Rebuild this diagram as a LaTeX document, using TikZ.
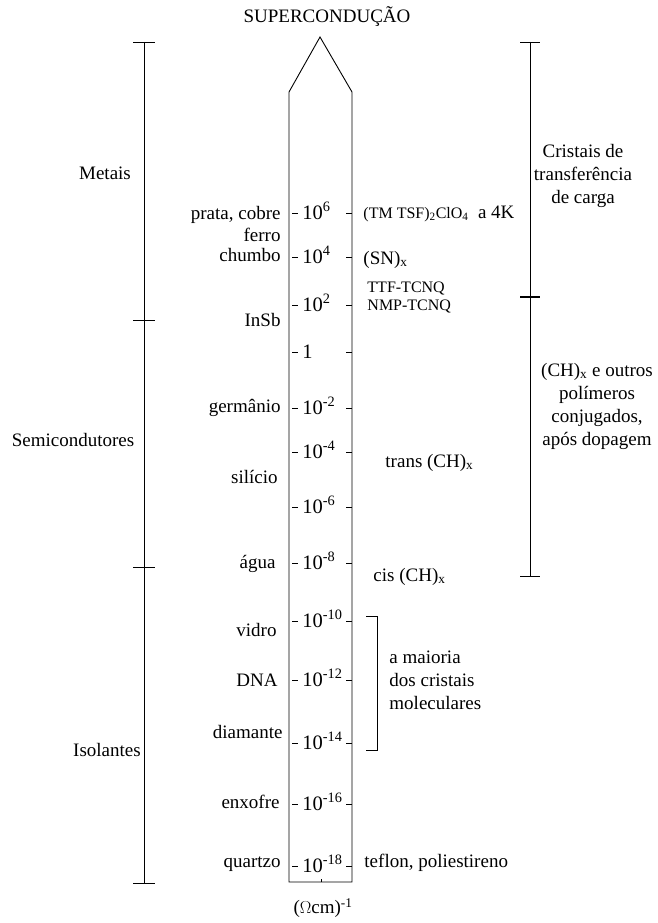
\documentclass[tikz,border=0pt]{standalone}
\usepackage{fontspec}
\setmainfont{Liberation Serif}
\begin{document}
\begin{tikzpicture}[x=1pt,y=-1pt,line width=0.9pt,
  every node/.style={inner sep=0pt,font=\fontsize{19}{23}\selectfont},
  lbl/.style={anchor=base east},
  num/.style={anchor=base west,font=\fontsize{20.5}{24}\selectfont},
  rlbl/.style={anchor=base west},
  small/.style={font=\fontsize{16}{19}\selectfont},
  block/.style={align=center}]
\useasboundingbox (0,0) rectangle (657,923);

% central column
\coordinate (apex) at (320,37);
\coordinate (tl) at (289,92);
\coordinate (tr) at (352,92);
\coordinate (bl) at (289,882);
\coordinate (br) at (352,882);
\draw (bl) -- (tl) -- (apex) -- (tr) -- (br) -- cycle;
\draw (321,882) -- (321,879);
\node (sup) at (327,17) {SUPERCONDUÇÃO};
\node (unit) at (323,908) {($\Omega$cm)\textsuperscript{-1}};

% ticks and numbers
\foreach \y/\lab/\nm in {213/10\textsuperscript{6}/a,257/10\textsuperscript{4}/b,305/10\textsuperscript{2}/c,352/1/d,408/10\textsuperscript{-2}/e,452/10\textsuperscript{-4}/f,507/10\textsuperscript{-6}/g,563/10\textsuperscript{-8}/h,621/10\textsuperscript{-10}/i,680/10\textsuperscript{-12}/j,743/10\textsuperscript{-14}/k,804/10\textsuperscript{-16}/l,866/10\textsuperscript{-18}/m}{
  \draw (292,\y) -- (298,\y);
  \draw (346,\y) -- (352,\y);
  \node[num] (n\nm) at (302,\y+6) {\lab};
}

% left labels
\node[lbl] (prata) at (281,219) {prata, cobre};
\node[lbl] (ferro) at (281,241) {ferro};
\node[lbl] (chumbo) at (281,261) {chumbo};
\node[lbl] (insb) at (281,326) {InSb};
\node[lbl] (germ) at (281,412) {germânio};
\node[lbl] (sil) at (278,483) {silício};
\node[lbl] (agua) at (276,568) {água};
\node[lbl] (vidro) at (277,636) {vidro};
\node[lbl] (dna) at (278,686) {DNA};
\node[lbl] (diam) at (283,738) {diamante};
\node[lbl] (enx) at (280,808) {enxofre};
\node[lbl] (quartzo) at (281,867) {quartzo};

% right labels
\node[rlbl] (tmtsf) at (363,218) {{\fontsize{16}{19}\selectfont (TM TSF)\textsubscript{2}ClO\textsubscript{4}}\ \ a 4K};
\node[rlbl] (sn) at (363,264) {(SN)\textsubscript{x}};
\node[rlbl,small] (ttf) at (367,292) {TTF-TCNQ};
\node[rlbl,small] (nmp) at (367,310) {NMP-TCNQ};
\node[rlbl] (trans) at (385,467) {trans (CH)\textsubscript{x}};
\node[rlbl] (cis) at (373,581) {cis (CH)\textsubscript{x}};
\node[rlbl] (teflon) at (364,867) {teflon, poliestireno};

% left classification bracket
\draw (144,42) -- (144,883);
\foreach \y in {42,320,567,883} \draw (133,\y) -- (155,\y);
\node (metais) at (105,173) {Metais};
\node (semi) at (73,440) {Semicondutores};
\node (isol) at (107,750) {Isolantes};

% right bracket
\draw (530,42) -- (530,576);
\draw (520,42) -- (540,42);
\draw[line width=1.8pt] (520,297) -- (540,297);
\draw (520,576) -- (540,576);
\node[block] (cristais) at (583,176) {Cristais de\\transferência\\de carga};
\node[block] (ch) at (597,406) {(CH)\textsubscript{x} e outros\\polímeros\\conjugados,\\após dopagem};

% small bracket
\draw (366,616) -- (377,616) -- (377,750) -- (366,750);
\node[align=left,anchor=west] (maioria) at (389,680) {a maioria\\dos cristais\\moleculares};
\end{tikzpicture}
\end{document}
